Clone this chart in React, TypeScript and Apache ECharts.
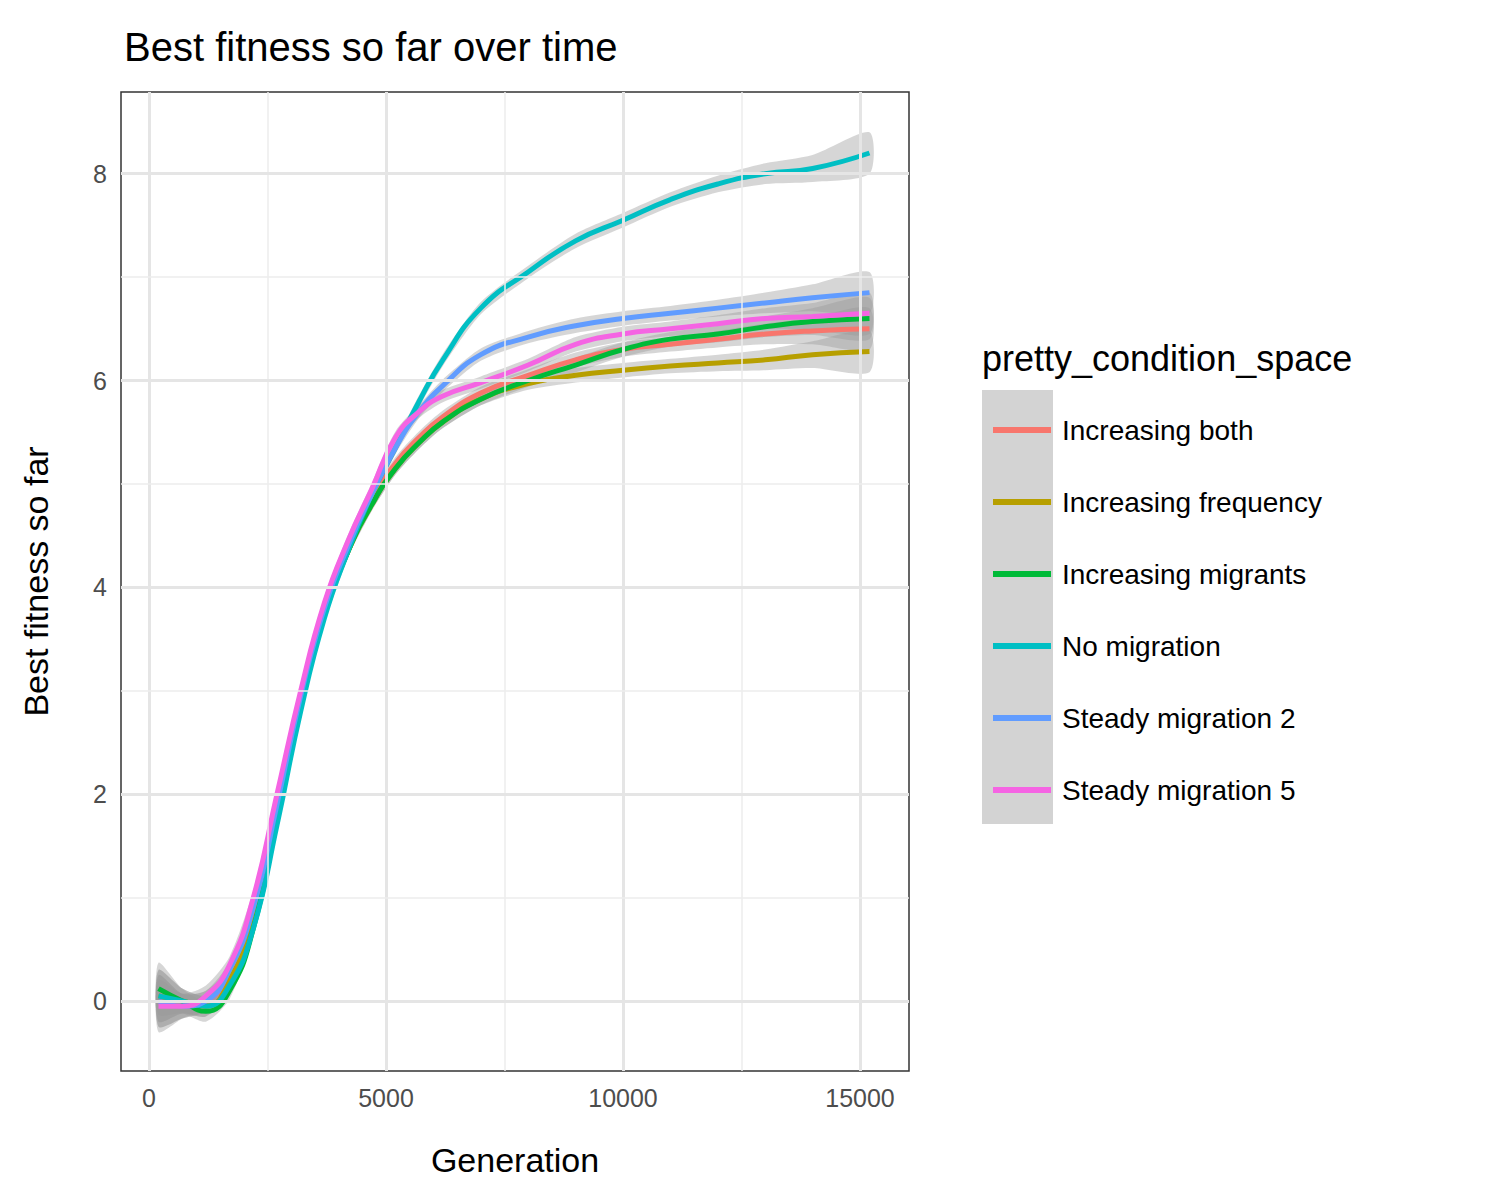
import React, { useEffect, useRef } from "react";
import * as echarts from "echarts";

const generations = [200, 700, 1200, 1700, 2200, 2700, 3200, 3700, 4200, 4700, 5200, 5700, 6200, 7000, 8000, 9000, 10000, 11000, 12000, 13000, 14000, 15200];

const conditionNames = ["Increasing both", "Increasing frequency", "Increasing migrants", "No migration", "Steady migration 2", "Steady migration 5"];
const conditionColors = ["#F8766D", "#B79F00", "#00BA38", "#00BFC4", "#619CFF", "#F564E3"];

const increasingBoth = [0.0, -0.05, 0.0, 0.25, 0.85, 1.85, 2.9, 3.75, 4.35, 4.85, 5.2, 5.45, 5.65, 5.88, 6.05, 6.2, 6.3, 6.35, 6.4, 6.45, 6.48, 6.5];
const increasingFrequency = [0.05, 0.0, -0.05, 0.2, 0.8, 1.8, 2.85, 3.75, 4.35, 4.8, 5.15, 5.4, 5.6, 5.82, 5.97, 6.05, 6.1, 6.14, 6.17, 6.2, 6.25, 6.28];
const increasingMigrants = [0.12, 0.0, -0.1, 0.1, 0.7, 1.75, 2.85, 3.75, 4.35, 4.8, 5.15, 5.4, 5.6, 5.82, 6.0, 6.15, 6.3, 6.4, 6.45, 6.52, 6.57, 6.6];
const noMigration = [0.05, 0.0, -0.05, 0.15, 0.7, 1.7, 2.8, 3.7, 4.35, 4.9, 5.35, 5.8, 6.2, 6.7, 7.05, 7.35, 7.55, 7.75, 7.9, 8.0, 8.05, 8.2];
const steadyMigration2 = [0.0, -0.05, 0.0, 0.3, 0.9, 1.9, 2.95, 3.8, 4.4, 4.9, 5.35, 5.7, 5.95, 6.25, 6.42, 6.53, 6.6, 6.65, 6.7, 6.75, 6.8, 6.85];
const steadyMigration5 = [-0.05, -0.05, 0.05, 0.35, 1.0, 2.0, 3.0, 3.85, 4.45, 4.95, 5.45, 5.7, 5.85, 5.98, 6.15, 6.35, 6.45, 6.5, 6.55, 6.6, 6.62, 6.65];

// half-width of the confidence band, per generation
const bandHalfWidth = [0.25, 0.12, 0.1, 0.08, 0.07, 0.06, 0.06, 0.06, 0.06, 0.06, 0.06, 0.06, 0.06, 0.06, 0.06, 0.07, 0.07, 0.07, 0.08, 0.1, 0.13, 0.2];

const xTicks = [0, 5000, 10000, 15000];
const xMinor = [2500, 7500, 12500];
const yTicks = [0, 2, 4, 6, 8];
const yMinor = [1, 3, 5, 7];

const allSeries = [increasingBoth, increasingFrequency, increasingMigrants, noMigration, steadyMigration2, steadyMigration5];

const App: React.FC = () => {
    const chartRef = useRef<HTMLDivElement>(null);

    useEffect(() => {
        if (!chartRef.current) return;
        const chart = echarts.init(chartRef.current, null, { renderer: "svg" });

        // confidence bands as smoothed polygons, placed through the axes
        const bandSeries = {
            type: "custom", silent: true, z: 1,
            data: allSeries.map((_, i) => [i]),
            renderItem: (params: any, api: any) => {
                const vals = allSeries[api.value(0)];
                const upper = generations.map((g, j) => api.coord([g, vals[j] + bandHalfWidth[j]]));
                const lower = generations.map((g, j) => api.coord([g, vals[j] - bandHalfWidth[j]])).reverse();
                return {
                    type: "polygon",
                    shape: { points: upper.concat(lower), smooth: 0.25 },
                    style: { fill: "rgba(153,153,153,0.4)" },
                };
            },
        };

        const gridSeries = {
            type: "line", data: [], silent: true,
            markLine: {
                symbol: "none", silent: true, label: { show: false }, animation: false,
                data: [
                    ...xTicks.map((v) => ({ xAxis: v, lineStyle: { color: "#e5e5e5", width: 3, type: "solid" } })),
                    ...xMinor.map((v) => ({ xAxis: v, lineStyle: { color: "#ececec", width: 1.5, type: "solid" } })),
                    ...yTicks.map((v) => ({ yAxis: v, lineStyle: { color: "#e5e5e5", width: 3, type: "solid" } })),
                    ...yMinor.map((v) => ({ yAxis: v, lineStyle: { color: "#ececec", width: 1.5, type: "solid" } })),
                ],
            },
        };

        const lineSeries = allSeries.map((vals, i) => ({
            name: conditionNames[i], type: "line", smooth: true, symbol: "none", z: 3,
            lineStyle: { color: conditionColors[i], width: 5 },
            itemStyle: { color: conditionColors[i] },
            data: generations.map((g, j) => [g, vals[j]]),
        }));

        chart.setOption({
            animation: false,
            backgroundColor: "#ffffff",
            textStyle: { fontFamily: "Liberation Sans, Arial, sans-serif" },
            title: {
                text: "Best fitness so far over time", left: 111, top: 14,
                textStyle: { fontSize: 40, fontWeight: "normal", color: "#000" },
            },
            grid: { left: 113, top: 84, width: 788, height: 979, show: true, borderColor: "#333", borderWidth: 1.5, backgroundColor: "#fff" },
            xAxis: {
                type: "value", min: -591, max: 16034,
                name: "Generation", nameLocation: "middle", nameGap: 72,
                nameTextStyle: { fontSize: 34, color: "#000" },
                axisLine: { show: false },
                splitLine: { show: false },
                axisTick: { show: true, customValues: xTicks, length: 8, lineStyle: { color: "#333", width: 1.5 } },
                axisLabel: { customValues: xTicks, fontSize: 25, color: "#4d4d4d", margin: 14, formatter: (v: number) => String(v) },
            },
            yAxis: {
                type: "value", min: -0.677, max: 8.79,
                name: "Best fitness so far", nameLocation: "middle", nameGap: 68,
                nameTextStyle: { fontSize: 34, color: "#000" },
                axisLine: { show: false },
                splitLine: { show: false },
                axisTick: { show: true, customValues: yTicks, length: 8, lineStyle: { color: "#333", width: 1.5 } },
                axisLabel: { customValues: yTicks, fontSize: 25, color: "#4d4d4d", margin: 14 },
            },
            legend: {
                data: conditionNames, orient: "vertical", left: 980, top: 402,
                icon: "rect", itemWidth: 58, itemHeight: 6, itemGap: 42,
                textStyle: { fontSize: 28, color: "#000", lineHeight: 30, padding: [0, 0, 0, 6] },
            },
            graphic: [
                { type: "text", left: 974, top: 332, style: { text: "pretty_condition_space", fontSize: 36, fill: "#000", fontFamily: "Liberation Sans, Arial, sans-serif" } },
                { type: "rect", left: 974, top: 382, z: -1, shape: { width: 71, height: 434 }, style: { fill: "#d3d3d3" } },
            ],
            series: [gridSeries, bandSeries, ...lineSeries],
        });

        return () => chart.dispose();
    }, []);

    return <div ref={chartRef} style={{ width: 1484, height: 1184 }} />;
};

export default App;
